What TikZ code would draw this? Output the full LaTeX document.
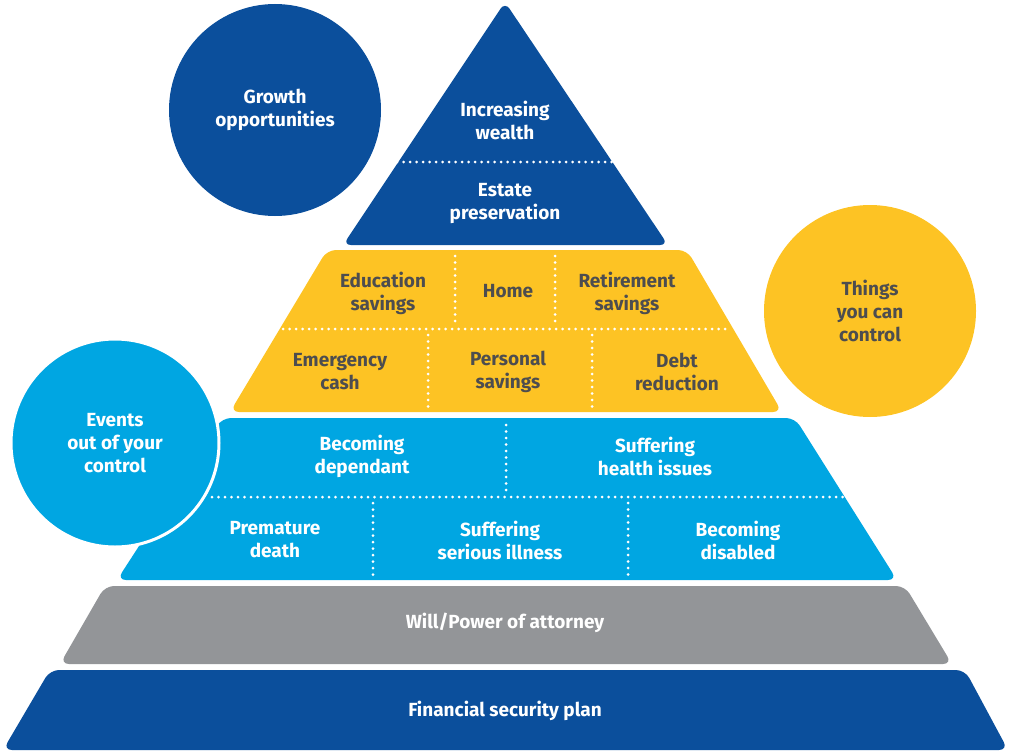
\documentclass[tikz,border=0pt]{standalone}
\usepackage{fontspec}
\setmainfont{Fira Sans}
\definecolor{dblue}{HTML}{0B4F9C}
\definecolor{lblue}{HTML}{00A6E2}
\definecolor{yel}{HTML}{FDC324}
\definecolor{gry}{HTML}{939598}
\definecolor{txt}{HTML}{4D4D4F}
\begin{document}
\begin{tikzpicture}[x=1pt,y=-1pt,
  lbl/.style={align=center,font=\bfseries\fontsize{19}{23}\selectfont,text=white},
  dlbl/.style={lbl,text=txt},
  dots/.style={white,line width=3pt,line cap=round,dash pattern=on 0pt off 6.5pt},
  blk/.style={rounded corners=9pt}]
\useasboundingbox (0,0) rectangle (1011,752);
% base layers
\fill[dblue,blk] (50,670) -- (965,670) -- (1008,750) -- (3,750) -- cycle;
\node[lbl] (fsp) at (505,711) {Financial security plan};
\fill[gry,blk] (105,586) -- (905,586) -- (952,664) -- (60,664) -- cycle;
\node[lbl] (will) at (505,623) {Will/Power of attorney};
% light blue
\fill[lblue,blk] (222,418) -- (795,418) -- (897,580) -- (117,580) -- cycle;
\draw[dots] (212,497) -- (845,497);
\draw[dots] (506,425) -- (506,493);
\draw[dots] (373,503) -- (373,576);
\draw[dots] (628,503) -- (628,576);
\node[lbl] (dep) at (362,456) {Becoming\\dependant};
\node[lbl] (hea) at (655,456) {Suffering\\health issues};
\node[lbl] (pre) at (275,540) {Premature\\death};
\node[lbl] (ill) at (500,540) {Suffering\\serious illness};
\node[lbl] (dis) at (738,540) {Becoming\\disabled};
% yellow
\fill[yel,blk] (327,250) -- (687,250) -- (782,412) -- (230,412) -- cycle;
\draw[dots] (283,329) -- (730,329);
\draw[dots] (455,256) -- (455,324);
\draw[dots] (555,256) -- (555,324);
\draw[dots] (428,335) -- (428,408);
\draw[dots] (592,335) -- (592,408);
\node[dlbl] (edu) at (383,293) {Education\\savings};
\node[dlbl] (home) at (508,291) {Home};
\node[dlbl] (ret) at (627,293) {Retirement\\savings};
\node[dlbl] (eme) at (340,372) {Emergency\\cash};
\node[dlbl] (per) at (508,372) {Personal\\savings};
\node[dlbl] (debt) at (677,372) {Debt\\reduction};
% top triangle
\fill[dblue,rounded corners=8pt] (505,2) -- (668,245) -- (343,245) -- cycle;
\draw[dots] (397,162) -- (617,162);
\node[lbl] (inc) at (505,120) {Increasing\\wealth};
\node[lbl] (est) at (505,204) {Estate\\preservation};
% circles
\node[circle,fill=dblue,minimum size=212pt,lbl] (grow) at (275,110) {Growth\\opportunities};
\node[circle,fill=yel,minimum size=212pt,dlbl] (ctrl) at (870,311) {Things\\you can\\control};
\node[circle,fill=lblue,draw=white,line width=3pt,minimum size=208pt,lbl] (ev) at (115,443) {Events\\out of your\\control};
\end{tikzpicture}
\end{document}
